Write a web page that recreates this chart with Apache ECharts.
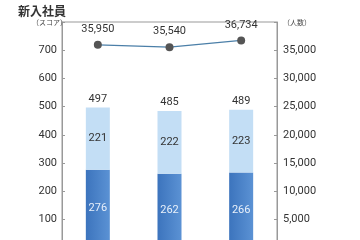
<!DOCTYPE html>
<html><head><meta charset="utf-8">
<script src="https://cdn.jsdelivr.net/npm/echarts@6/dist/echarts.min.js"></script>
<style>html,body{margin:0;padding:0;background:#fff}#c{width:360px;height:240px}</style>
</head><body><div id="c"></div>
<script>
var categories = ['A', 'B', 'C'];
var lowerScores = [276, 262, 266];
var upperScores = [221, 222, 223];
var totalScores = [497, 485, 489];
var headcount = [35950, 35540, 36734];

var chart = echarts.init(document.getElementById('c'), null, {renderer: 'canvas'});
var F = '"Noto Sans CJK JP", "Noto Sans", sans-serif';
var fmt = function (v) { return String(v).replace(/\B(?=(\d{3})+(?!\d))/g, ','); };
chart.setOption({
  animation: false,
  textStyle: {fontFamily: F},
  title: [
    {text: '新入社員', left: 13, top: 0, textStyle: {fontSize: 12, fontWeight: 'bold', color: '#333', fontFamily: F}},
    {text: '（スコア）', left: 27, top: 14, textStyle: {fontSize: 7, fontWeight: 'normal', color: '#444', fontFamily: F}},
    {text: '（人数）', left: 278, top: 14, textStyle: {fontSize: 7, fontWeight: 'normal', color: '#444', fontFamily: F}}
  ],
  grid: {left: 62, right: 83, top: 22, height: 225.6, show: true, borderColor: '#999', borderWidth: 1,
         containLabel: false, outerBoundsMode: 'none'},
  xAxis: {type: 'category', data: categories, axisLabel: {show: false}, axisTick: {show: false}, axisLine: {show: false}},
  yAxis: [
    {type: 'value', min: 0, max: 800, interval: 100, position: 'left',
     axisLine: {show: true, lineStyle: {color: '#999'}},
     axisTick: {show: true, inside: true, length: 3, lineStyle: {color: '#999'}},
     splitLine: {show: false},
     axisLabel: {color: '#333', fontSize: 11, margin: 5, fontFamily: 'Roboto, sans-serif',
       formatter: function (v) { return v === 800 ? '' : v; }}},
    {type: 'value', min: 0, max: 40000, interval: 5000, position: 'right',
     axisLine: {show: true, lineStyle: {color: '#999'}},
     axisTick: {show: true, inside: true, length: 3, lineStyle: {color: '#999'}},
     splitLine: {show: false},
     axisLabel: {color: '#333', fontSize: 11, margin: 6, fontFamily: 'Roboto, sans-serif',
       formatter: function (v) { return v === 40000 ? '' : fmt(v); }}}
  ],
  series: [
    {type: 'bar', stack: 's', data: lowerScores, barWidth: 24,
     itemStyle: {color: new echarts.graphic.LinearGradient(0, 0, 1, 0, [{offset: 0, color: '#3c74bd'}, {offset: 1, color: '#5b92d4'}])},
     label: {show: true, position: 'inside', color: '#e8f0fa', fontSize: 11, fontFamily: 'Roboto, sans-serif'}},
    {type: 'bar', stack: 's', data: upperScores, barWidth: 24,
     itemStyle: {color: '#c3def5'},
     label: {show: true, position: 'inside', color: '#333', fontSize: 11, fontFamily: 'Roboto, sans-serif'}},
    {type: 'bar', stack: 's', data: totalScores.map(function () { return 0; }), barWidth: 24,
     itemStyle: {color: 'transparent'}, silent: true,
     label: {show: true, position: 'top', distance: 3, color: '#333', fontSize: 11, fontFamily: 'Roboto, sans-serif',
       formatter: function (p) { return totalScores[p.dataIndex]; }}},
    {type: 'line', yAxisIndex: 1, data: headcount, symbol: 'circle', symbolSize: 8,
     lineStyle: {color: '#4b7fa8', width: 1.2},
     itemStyle: {color: '#555'},
     label: {show: true, position: 'top', distance: 6, color: '#333', fontSize: 11, fontFamily: 'Roboto, sans-serif',
       formatter: function (p) { return fmt(p.value); }}}
  ]
});
</script></body></html>
